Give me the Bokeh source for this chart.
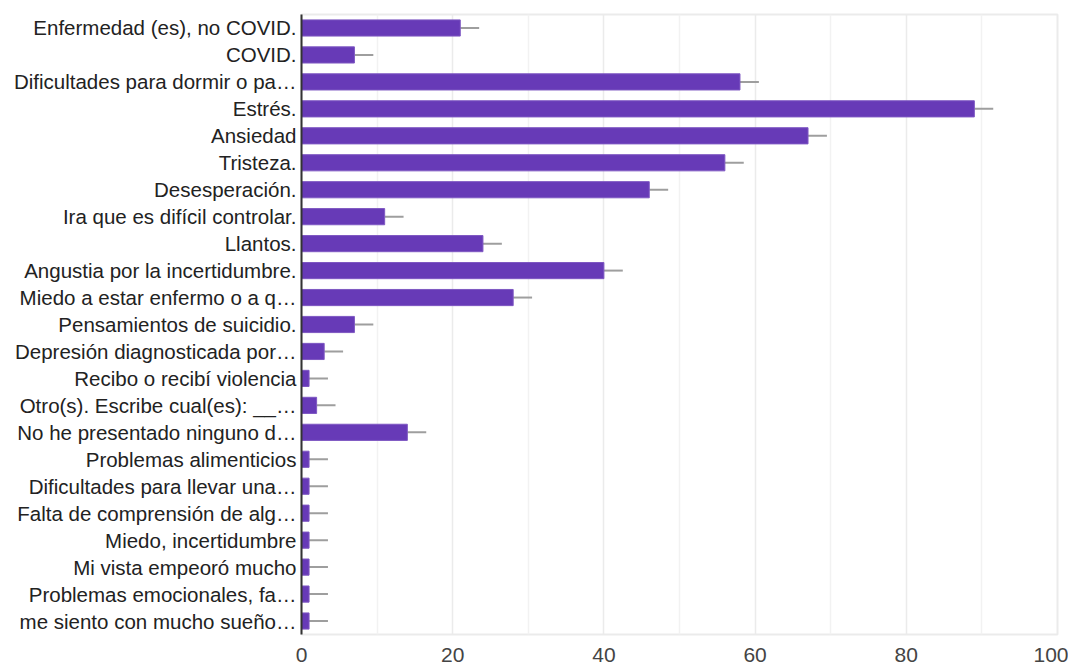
from bokeh.plotting import figure
from bokeh.models import FactorRange, FixedTicker, ColumnDataSource
from bokeh.embed import file_html
from bokeh.resources import INLINE

categories = [
    "Enfermedad (es), no COVID.",
    "COVID.",
    "Dificultades para dormir o pa…",
    "Estrés.",
    "Ansiedad",
    "Tristeza.",
    "Desesperación.",
    "Ira que es difícil controlar.",
    "Llantos.",
    "Angustia por la incertidumbre.",
    "Miedo a estar enfermo o a q…",
    "Pensamientos de suicidio.",
    "Depresión diagnosticada por…",
    "Recibo o recibí violencia",
    "Otro(s). Escribe cual(es): __…",
    "No he presentado ninguno d…",
    "Problemas alimenticios",
    "Dificultades para llevar una…",
    "Falta de comprensión de alg…",
    "Miedo, incertidumbre",
    "Mi vista empeoró mucho",
    "Problemas emocionales, fa…",
    "me siento con mucho sueño…",
]
counts = [21, 7, 58, 89, 67, 56, 46, 11, 24, 40, 28, 7, 3, 1, 2, 14, 1, 1, 1, 1, 1, 1, 1]
x_ticks = [0, 20, 40, 60, 80, 100]
x_minor = [10, 30, 50, 70, 90]
stub = 2.5

src = ColumnDataSource(dict(cat=categories, val=counts,
                            end=[c + stub for c in counts]))

p = figure(width=1068, height=667, output_backend="svg", toolbar_location=None,
           y_range=FactorRange(factors=categories[::-1], range_padding=0),
           x_range=(0, 100),
           min_border_left=301, min_border_right=11, min_border_top=14, min_border_bottom=33)
p.y_range.factor_padding = 0
p.y_range.range_padding = 0

p.segment(x0="val", y0="cat", x1="end", y1="cat", source=src,
          line_color="#9e9e9e", line_width=2)
p.hbar(y="cat", left=0, right="val", height=0.6, source=src,
       fill_color="#673ab7", line_color="#7e57c2", line_width=1)

p.xaxis.ticker = FixedTicker(ticks=x_ticks, minor_ticks=x_minor)
p.xgrid.ticker = p.xaxis.ticker
p.xgrid.grid_line_color = "#ebebeb"
p.xgrid.grid_line_width = 1.5
p.xgrid.minor_grid_line_color = "#f2f2f2"
p.xgrid.minor_grid_line_width = 1.5
p.ygrid.grid_line_color = None

p.xaxis.axis_line_color = None
p.xaxis.major_tick_line_color = None
p.xaxis.minor_tick_line_color = None
p.xaxis.major_tick_out = 0
p.xaxis.major_label_text_font = "Liberation Sans"
p.xaxis.major_label_text_font_size = "21px"
p.xaxis.major_label_text_color = "#444444"
p.xaxis.major_label_standoff = 9

p.yaxis.axis_line_color = "#333333"
p.yaxis.axis_line_width = 2
p.yaxis.major_tick_line_color = None
p.yaxis.minor_tick_line_color = None
p.yaxis.major_tick_out = 0
p.yaxis.major_label_text_font = "Liberation Sans"
p.yaxis.major_label_text_font_size = "20.5px"
p.yaxis.major_label_text_color = "#222222"
p.yaxis.major_label_standoff = 5

p.outline_line_color = "#ebebeb"
p.outline_line_width = 2
p.background_fill_color = "white"
p.border_fill_color = "white"

open("out.html", "w").write(file_html(p, INLINE))
